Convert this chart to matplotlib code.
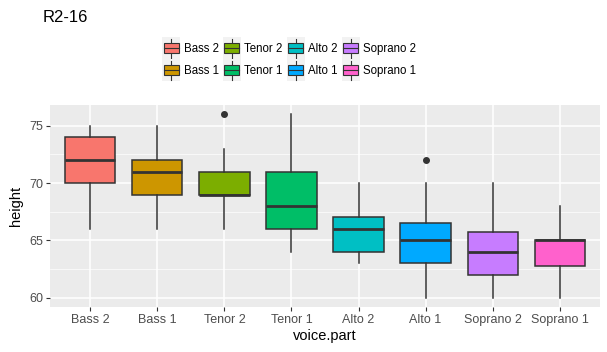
import numpy as np
import matplotlib
matplotlib.use("Agg")
import matplotlib.pyplot as plt
from matplotlib.patches import Rectangle, Patch
from matplotlib.lines import Line2D
from matplotlib.legend_handler import HandlerBase

plt.rcParams['font.family'] = ['Liberation Sans', 'DejaVu Sans']

# ---------------- data ----------------
parts = ["Bass 2", "Bass 1", "Tenor 2", "Tenor 1", "Alto 2", "Alto 1", "Soprano 2", "Soprano 1"]
q1 = [70, 69, 69, 66, 64, 63, 62, 62.75]
med = [72, 71, 69, 68, 66, 65, 64, 65]
q3 = [74, 72, 71, 71, 67, 66.5, 65.75, 65]
whislo = [66, 66, 66, 64, 63, 60, 60, 60]
whishi = [75, 75, 73, 76, 70, 70, 70, 68]
fliers = [[], [], [76], [], [], [72], [], []]
colors = ["#F8766D", "#CD9600", "#7CAE00", "#00BE67", "#00BFC4", "#00A9FF", "#C77CFF", "#FF61CC"]

yticks = [60, 65, 70, 75]
yminor = [62.5, 67.5, 72.5]

# ---------------- figure ----------------
fig = plt.figure(figsize=(6.07, 3.52), dpi=100)
ax = fig.add_axes([50/607, 1-307/352, 550/607, 202/352])
ax.set_facecolor("#EBEBEB")

positions = np.arange(1, len(parts)+1)
stats = []
for i in range(len(parts)):
    stats.append(dict(med=med[i], q1=q1[i], q3=q3[i], whislo=whislo[i],
                      whishi=whishi[i], fliers=fliers[i], label=parts[i]))

edge = "#333333"
bp = ax.bxp(stats, positions=positions, widths=0.75, patch_artist=True, showcaps=False,
            boxprops=dict(edgecolor=edge, linewidth=1.1),
            medianprops=dict(color=edge, linewidth=2.0, solid_capstyle="butt"),
            whiskerprops=dict(color=edge, linewidth=1.1),
            flierprops=dict(marker="o", markerfacecolor=edge, markeredgecolor=edge, markersize=4))
for patch, c in zip(bp["boxes"], colors):
    patch.set_facecolor(c)
for item in bp["boxes"] + bp["medians"] + bp["whiskers"] + bp["fliers"]:
    item.set_zorder(3)

# grid
for y in yminor:
    ax.axhline(y, color="white", linewidth=0.5, zorder=1)
for y in yticks:
    ax.axhline(y, color="white", linewidth=1.1, zorder=1)
for x in positions:
    ax.axvline(x, color="white", linewidth=1.1, zorder=1)

ax.set_xlim(0.4, len(parts)+0.6)
ax.set_ylim(59.2, 76.8)
ax.set_yticks(yticks)
ax.set_xticks(positions)
ax.set_xticklabels(parts)
for s in ax.spines.values():
    s.set_visible(False)
ax.tick_params(axis="both", direction="out", length=3, width=0.8, color=edge,
               labelsize=9, labelcolor="#4D4D4D", pad=2)
ax.set_xlabel("voice.part", fontsize=10.5, labelpad=2)
ax.set_ylabel("height", fontsize=10.5, labelpad=4)

fig.text(43/607, 1-22/352, "R2-16", fontsize=12, ha="left", va="baseline")


# legend with boxplot-like keys
class BoxHandler(HandlerBase):
    def create_artists(self, legend, orig_handle, xdescent, ydescent, width, height, fontsize, trans):
        x0, y0 = -xdescent, -ydescent
        c = orig_handle.get_facecolor()
        bg = Rectangle((x0, y0), width, height, facecolor="#F2F2F2", edgecolor="none", transform=trans)
        cx = x0 + width/2
        wl = Line2D([cx, cx], [y0+height*0.06, y0+height*0.94], color=edge, lw=0.8, transform=trans)
        bx = Rectangle((x0+width*0.08, y0+height*0.27), width*0.84, height*0.46,
                       facecolor=c, edgecolor=edge, lw=0.8, transform=trans)
        ml = Line2D([x0+width*0.08, x0+width*0.92], [y0+height*0.5, y0+height*0.5],
                    color=edge, lw=0.8, transform=trans)
        return [bg, wl, bx, ml]


handles = [Patch(facecolor=c, label=p) for p, c in zip(parts, colors)]
fig.legend(handles=handles, labels=parts, loc="upper left", bbox_to_anchor=(160/607, 1-35/352),
           ncol=4, frameon=False, fontsize=8.3, handlelength=1.56, handleheight=2.55,
           handletextpad=0.3, columnspacing=0.35, labelspacing=0.0, borderpad=0.2,
           borderaxespad=0.0, handler_map={Patch: BoxHandler()})

fig.savefig("out.png", dpi=100)
